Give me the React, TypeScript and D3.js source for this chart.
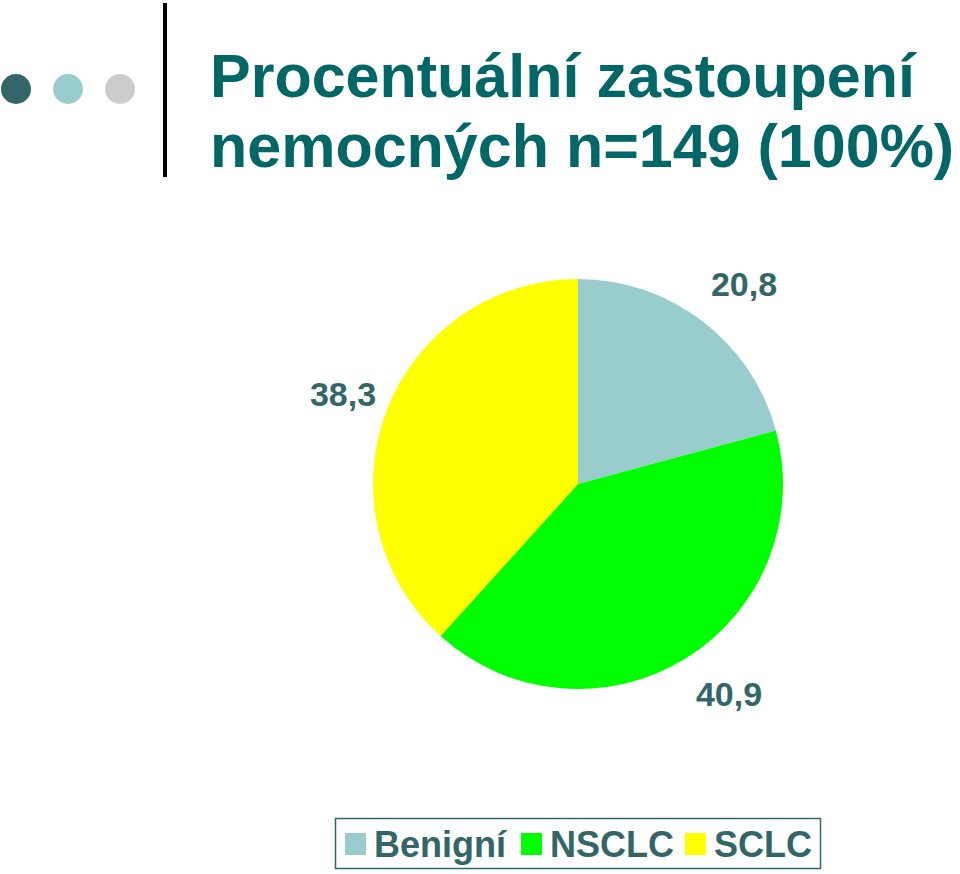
import React from "react";
import * as d3 from "d3";

const categories = ["Benigní", "NSCLC", "SCLC"];
const values = [20.8, 40.9, 38.3];
const valueLabels = ["20,8", "40,9", "38,3"];
const colors = ["#99CCCC", "#00FF00", "#FFFF00"];
const titleLines = ["Procentuální zastoupení", "nemocných n=149 (100%)"];
const dotColors = ["#336666", "#99CCCC", "#CCCCCC"];

const labelPos: [number, number][] = [
  [744, 296],
  [729, 706],
  [343, 406],
];

export default function App() {
  const W = 960, H = 874;
  const cx = 578, cy = 484, r = 205;
  const pie = d3.pie<number>().sort(null).value((d) => d);
  const arcs = pie(values);
  const arc = d3.arc<d3.PieArcDatum<number>>().innerRadius(0).outerRadius(r);
  const font = "'Liberation Sans', Arial, sans-serif";
  const legendX = d3.scaleOrdinal<string, number>().domain(categories).range([345, 521, 685]);
  return (
    <svg width={W} height={H} style={{ position: "absolute", left: 0, top: 0, background: "#fff" }}>
      {dotColors.map((c, i) => (
        <circle key={i} cx={16 + i * 52} cy={89} r={15} fill={c} />
      ))}
      <rect x={163} y={3} width={4} height={174} fill="#000" />
      {titleLines.map((t, i) => (
        <text key={i} x={210} y={97 + i * 70} fontFamily={font} fontWeight="bold" fontSize={61} fill="#006666">
          {t}
        </text>
      ))}
      <g transform={`translate(${cx},${cy})`}>
        {arcs.map((a, i) => (
          <path key={i} d={arc(a) || ""} fill={colors[i]} />
        ))}
      </g>
      {valueLabels.map((l, i) => (
        <text key={i} x={labelPos[i][0]} y={labelPos[i][1]} textAnchor="middle" fontFamily={font} fontWeight="bold" fontSize={34} fill="#336666">
          {l}
        </text>
      ))}
      <rect x={335.5} y={818.5} width={485} height={50} fill="none" stroke="#336666" strokeWidth={1.5} />
      {categories.map((c, i) => (
        <g key={c}>
          <rect x={legendX(c)} y={833} width={21} height={22} fill={colors[i]} />
          <text x={legendX(c) + 29} y={857} fontFamily={font} fontWeight="bold" fontSize={36} fill="#336666">
            {c}
          </text>
        </g>
      ))}
    </svg>
  );
}
